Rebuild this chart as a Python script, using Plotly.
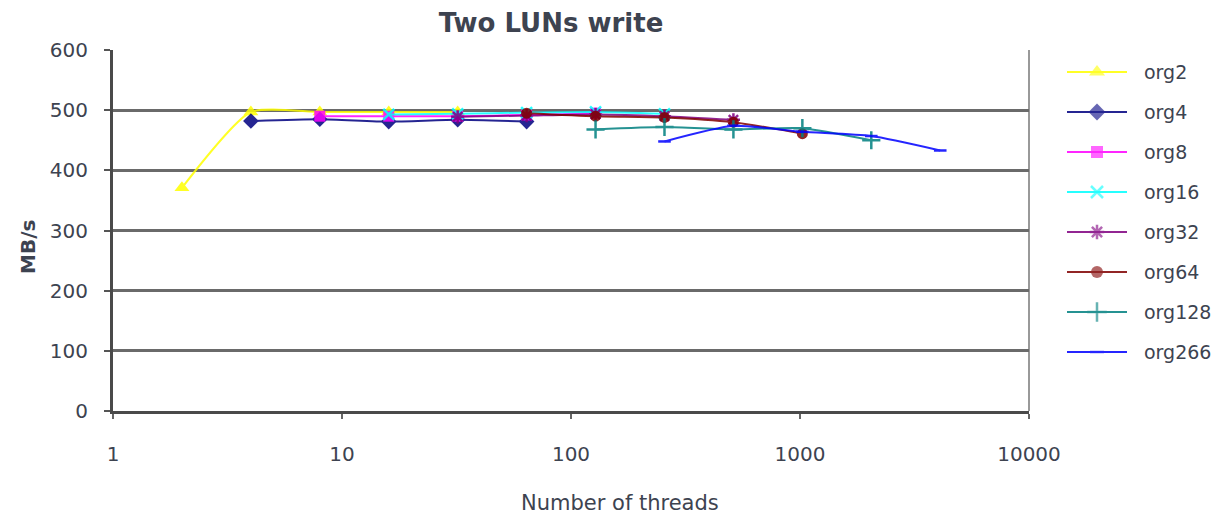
import plotly.graph_objects as go

# ---- data ----
series_names = ["org2", "org4", "org8", "org16", "org32", "org64", "org128", "org266"]
threads_org2 = [2, 4, 8, 16, 32]
threads_org4 = [4, 8, 16, 32, 64]
threads_org8 = [8, 16, 32, 64, 128]
threads_org16 = [16, 32, 64, 128, 256]
threads_org32 = [32, 64, 128, 256, 512]
threads_org64 = [64, 128, 256, 512, 1024]
threads_org128 = [128, 256, 512, 1024, 2048]
threads_org266 = [256, 512, 1024, 2048, 4096]

mbs_org2 = [371, 497, 497, 497, 497]
mbs_org4 = [482, 485, 481, 484, 481]
mbs_org8 = [490, 490, 490, 492, 495]
mbs_org16 = [493, 494, 496, 497, 494]
mbs_org32 = [489, 491, 493, 490, 484]
mbs_org64 = [495, 490, 488, 480, 461]
mbs_org128 = [468, 472, 468, 470, 450]
mbs_org266 = [448, 474, 464, 457, 433]

x_tick_vals = [1, 10, 100, 1000, 10000]
x_tick_text = ["1", "10", "100", "1000", "10000"]
y_tick_vals = [0, 100, 200, 300, 400, 500, 600]

# ---- styles ----
colors = ["#FFFF00", "#000080", "#FF00FF", "#00FFFF", "#800080", "#800000", "#008080", "#0000FF"]
symbols = ["triangle-up", "diamond", "square", "x-thin-open", "asterisk-open",
           "circle", "cross-thin-open", "line-ew-open"]
sizes = [13, 12, 11, 11, 11, 11, 13, 9]

xs = [threads_org2, threads_org4, threads_org8, threads_org16,
      threads_org32, threads_org64, threads_org128, threads_org266]
ys = [mbs_org2, mbs_org4, mbs_org8, mbs_org16,
      mbs_org32, mbs_org64, mbs_org128, mbs_org266]

FONT = "DejaVu Sans"
TXT = "#3d4350"

W, H = 1228, 521
L, T, B = 113, 50, 110
PLOT_RIGHT = 1029          # right edge of the chart's plot area (px)
PAPER_W = W - L            # right margin 0, legend lives in its own axes
LEG_LEFT = 1060            # legend area starts here (px)

fig = go.Figure()
for name, x, y, c, s, sz in zip(series_names, xs, ys, colors, symbols, sizes):
    fig.add_trace(go.Scatter(
        x=x, y=y, name=name, mode="lines+markers", showlegend=False,
        line=dict(color=c, width=2, shape="spline", smoothing=0.6),
        opacity=0.85,
        marker=dict(symbol=s, size=sz, color=c,
                    line=dict(color=c, width=2.5 if "open" in s else 0)),
        xaxis="x", yaxis="y",
    ))

# legend drawn in its own small axes (pixel-like coordinates)
for i, (name, c, s, sz) in enumerate(zip(series_names, colors, symbols, sizes)):
    yy = 72 + 40 * i
    fig.add_trace(go.Scatter(
        x=[1067, 1097, 1127], y=[yy, yy, yy], mode="lines+markers",
        line=dict(color=c, width=2), opacity=0.85, showlegend=False, hoverinfo="skip",
        marker=dict(symbol=s, size=[0, sz + 1, 0], color=c,
                    line=dict(color=c, width=2.5 if "open" in s else 0)),
        xaxis="x2", yaxis="y2",
    ))
    fig.add_annotation(text=name, x=1142, y=yy, xref="x2", yref="y2",
                       xanchor="left", yanchor="middle", showarrow=False,
                       font=dict(family=FONT, size=19, color=TXT))

fig.update_layout(
    width=W, height=H,
    margin=dict(l=L, r=0, t=T, b=B, autoexpand=False),
    paper_bgcolor="white", plot_bgcolor="white",
    font=dict(family=FONT, color=TXT, size=20),
    title=dict(text="Two LUNs write", x=551 / W, xref="container", xanchor="center",
               y=1 - 23 / H, yref="container", yanchor="middle",
               font=dict(family=FONT, size=26, color=TXT, weight="bold")),
    showlegend=False,
    xaxis=dict(type="log", range=[0, 4], domain=[0, (PLOT_RIGHT - L) / PAPER_W],
               tickvals=x_tick_vals, ticktext=x_tick_text, automargin=False,
               showgrid=False, zeroline=False,
               showline=True, linecolor="#4a4a4a", linewidth=3, mirror=False,
               ticks="outside", ticklen=5, tickwidth=2, tickcolor="#666",
               ticklabelstandoff=18, tickfont=dict(size=20, color=TXT)),
    yaxis=dict(range=[0, 600], tickvals=y_tick_vals, automargin=False,
               showgrid=True, gridcolor="#6a6a6a", gridwidth=2.5, zeroline=False,
               showline=True, linecolor="#4a4a4a", linewidth=3,
               ticks="outside", ticklen=6, tickwidth=2, tickcolor="#555",
               ticklabelstandoff=12, tickfont=dict(size=20, color=TXT)),
    xaxis2=dict(domain=[(LEG_LEFT - L) / PAPER_W, 1], range=[LEG_LEFT, W],
                visible=False, showticklabels=False, ticks="", automargin=False,
                showgrid=False, zeroline=False, anchor="y2", fixedrange=True),
    yaxis2=dict(domain=[0, 1], range=[H - B, T], visible=False, showticklabels=False,
                ticks="", automargin=False, showgrid=False, zeroline=False,
                anchor="x2", fixedrange=True),
    annotations=list(fig.layout.annotations) + [
        dict(text="Number of threads", x=(620 - L) / PAPER_W, y=(411 - 503) / 361,
             xref="paper", yref="paper", showarrow=False, xanchor="center", yanchor="middle",
             font=dict(family=FONT, size=21, color=TXT)),
        dict(text="<b>MB/s</b>", x=(28 - L) / PAPER_W, y=(411 - 247) / 361, textangle=-90,
             xref="paper", yref="paper", showarrow=False, xanchor="center", yanchor="middle",
             font=dict(family=FONT, size=20, color=TXT)),
    ],
    shapes=[
        dict(type="line", xref="x domain", yref="y domain", x0=1, x1=1, y0=0, y1=1,
             line=dict(color="#777", width=1.5), layer="below"),
    ],
)

fig.write_html("out.html", config={"displayModeBar": False},
               post_script="document.body.style.margin='0';")
